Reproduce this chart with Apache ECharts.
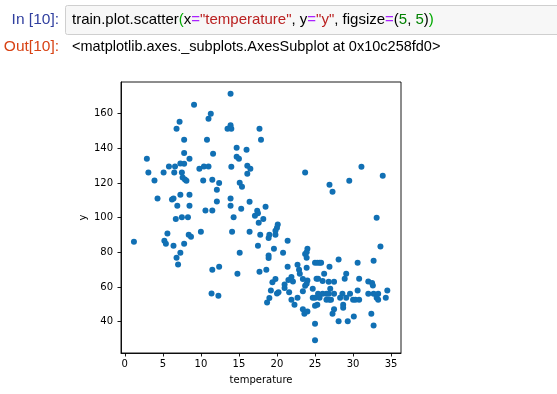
<!DOCTYPE html>
<html>
<head>
<meta charset="utf-8">
<script src="https://cdn.jsdelivr.net/npm/echarts@6/dist/echarts.min.js"></script>
<style>
html,body{margin:0;padding:0;background:#fff;}
#chart{width:557px;height:394px;}
</style>
</head>
<body>
<div id="chart"></div>
<script>
// ---- data ----
const temperature = [
  9.1,11.3,11.0,7.2,6.8,7.8,10.8,7.8,11.6,2.9,8.5,7.3,7.8,5.8,6.6,10.4,11.0,9.8,3.1,5.1,
  6.5,7.5,7.6,7.9,8.1,3.9,10.3,11.5,12.4,12.1,4.3,6.2,6.4,7.3,8.5,12.1,6.9,8.5,10.6,11.5,
  6.7,7.5,8.3,1.2,5.6,8.4,8.7,10.0,5.2,5.4,6.4,7.8,7.3,6.8,7.0,11.5,12.4,11.4,12.3,13.9,
  13.5,13.9,14.0,17.7,17.9,14.7,16.0,14.7,15.0,14.0,16.1,16.5,16.1,23.7,15.1,15.4,13.9,13.9,16.4,15.3,
  17.4,17.5,17.1,18.5,14.3,18.2,17.6,20.1,20.0,19.8,19.8,19.0,18.9,17.8,16.4,14.1,21.4,17.5,19.6,20.8,
  15.1,18.9,18.9,24.0,23.7,23.9,21.4,22.7,22.9,23.0,23.9,14.8,17.7,18.6,21.9,21.5,22.1,23.4,24.0,19.4,
  19.8,21.0,21.0,21.6,23.7,23.4,19.2,20.0,20.2,19.0,18.7,21.9,22.7,22.3,23.4,23.6,24.0,31.1,26.9,27.3,
  29.5,33.9,33.1,33.6,23.9,25.0,25.3,25.6,25.8,26.9,28.1,30.6,32.7,26.2,29.1,28.9,30.8,32.0,32.5,32.6,
  25.2,25.4,26.0,26.8,27.5,23.9,24.7,25.4,26.0,26.5,26.8,27.0,27.5,28.6,29.6,30.6,32.0,32.7,33.3,34.5,
  34.3,24.7,25.0,25.6,26.5,26.9,27.1,28.3,29.1,30.0,30.3,30.8,33.1,33.3,28.7,28.7,27.5,27.3,25.0,25.3,
  28.1,29.3,30.1,32.4,32.7,25.0,25.0
];
const yValues = [
  165.2,160,157.1,155.4,151.3,145,145,137.3,136.9,134,134,131.3,131.1,129.6,129.6,129.6,129.6,128.3,126.1,126.1,
  126.1,126,123.2,122.1,121.3,121.5,121.5,121.9,120,116.1,111.1,110.5,111.1,113.2,113.2,109.4,106.9,106.9,104.2,104.2,
  99.2,100.2,100.2,86.1,90.8,90.2,89,91.9,86.7,85,83.8,85,79.8,76.9,73,70,71.7,56.3,55,171.5,
  151.3,153.3,151.3,151.3,145,140.4,139.2,135.2,134,129.4,130,128.3,125.4,126,120.2,117.9,111,106.9,109.2,105.2,
  104,102.6,101.1,106.3,100.2,99.2,97.1,96,94.2,92.5,90.2,90.2,88.2,90.2,91.9,91.9,86.7,83.8,82.1,79.8,
  79.8,78.1,76.7,82.1,79,76.9,71.7,72.9,70,67.7,71.1,67.7,68.8,70,65.7,64,63.2,64.6,63.8,62.8,
  64.6,61.5,59.4,56.9,60.7,57.6,57.9,56.3,57,53.6,51.1,52.7,53.8,49.8,47.1,44.6,45.9,129.4,119,115,
  121.3,124.2,100,83.4,80,74,74,74,74,71.7,75.8,74,75.2,67.7,67.7,64.8,64.8,63.1,62.3,60.8,
  64.7,64.7,63.4,63,63,61.9,59,56.1,56.1,56.1,56.1,59,56.1,56.1,56.1,57.9,56.1,56.1,56.1,57.9,
  53.8,53.8,53.8,53.8,52.7,52.7,52.7,53.8,53.8,52.7,52.7,52.7,53.8,52.7,49.8,48,47.1,44.6,49.2,49.8,
  40.2,40.2,42.9,44.6,37.7,38.8,29.2
];
const xTicks = [0, 5, 10, 15, 20, 25, 30, 35];
const yTicks = [40, 60, 80, 100, 120, 140, 160];
const xLabel = 'temperature';
const yLabel = 'y';
const inPrompt = 'In [10]:';
const outPrompt = 'Out[10]:';
const outText = '<matplotlib.axes._subplots.AxesSubplot at 0x10c258fd0>';
// code cell tokens: [text, style]
const codeTokens = [
  ['train.plot.scatter', 'k'], ['(', 'mb'], ['x', 'k'], ['=', 'op'], ['"temperature"', 's'],
  [', y', 'k'], ['=', 'op'], ['"y"', 's'], [', figsize', 'k'], ['=', 'op'],
  ['(', 'k'], ['5', 'n'], [', ', 'k'], ['5', 'n'], [')', 'k'], [')', 'mb']
];

const points = temperature.map((t, i) => [t, yValues[i]]);

const chart = echarts.init(document.getElementById('chart'), null, {renderer: 'canvas'});
const uiFont = '"Liberation Sans", Arial, Helvetica, sans-serif';
const plotFont = '"DejaVu Sans", sans-serif';

const codeRich = {
  k: {fill: '#000000', fontSize: 15, fontFamily: uiFont},
  mb: {fill: '#00aa00', fontSize: 15, fontFamily: uiFont},
  op: {fill: '#aa22ff', fontSize: 15, fontFamily: uiFont},
  s: {fill: '#ba2121', fontSize: 15, fontFamily: uiFont},
  n: {fill: '#008000', fontSize: 15, fontFamily: uiFont}
};
const codeText = codeTokens.map(([txt, st]) => '{' + st + '|' + txt.replace(/\|/g, '') + '}').join('');

chart.setOption({
  animation: false,
  backgroundColor: '#ffffff',
  grid: {
    left: 121, top: 82, width: 280, height: 271,
    show: true, borderColor: '#000000', borderWidth: 0.9, backgroundColor: 'transparent'
  },
  xAxis: {
    type: 'value', min: -0.5, max: 36.3,
    name: xLabel, nameLocation: 'middle', nameGap: 22, nameMoveOverlap: false,
    nameTextStyle: {fontFamily: plotFont, fontSize: 10, color: '#000'},
    axisLine: {show: true, onZero: false, lineStyle: {color: '#000', width: 0.9}},
    axisTick: {show: true, inside: false, length: 3.5, customValues: xTicks, lineStyle: {color: '#000', width: 0.9}},
    axisLabel: {customValues: xTicks, margin: 6, fontFamily: plotFont, fontSize: 10, color: '#000'},
    splitLine: {show: false}
  },
  yAxis: {
    type: 'value', min: 21.9, max: 178.3,
    name: yLabel, nameLocation: 'middle', nameGap: 33, nameRotate: 90, nameMoveOverlap: false,
    nameTextStyle: {fontFamily: plotFont, fontSize: 10, color: '#000'},
    axisLine: {show: true, onZero: false, lineStyle: {color: '#000', width: 0.9}},
    axisTick: {show: true, inside: false, length: 3.5, customValues: yTicks, lineStyle: {color: '#000', width: 0.9}},
    axisLabel: {customValues: yTicks, margin: 8, fontFamily: plotFont, fontSize: 10, color: '#000'},
    splitLine: {show: false}
  },
  series: [{
    type: 'scatter',
    data: points,
    symbol: 'circle',
    symbolSize: 6,
    itemStyle: {color: '#1170b4', opacity: 1},
    emphasis: {disabled: true}
  }],
  graphic: [
    {type: 'rect', shape: {x: 65.5, y: 5.5, width: 520, height: 29, r: 2},
     style: {fill: '#f7f7f7', stroke: '#cfcfcf', lineWidth: 1}},
    {type: 'text', x: 59, y: 20,
     style: {text: inPrompt, fill: '#303F9F', font: '15.5px ' + uiFont, align: 'right', verticalAlign: 'middle'}},
    {type: 'text', x: 72, y: 20,
     style: {text: codeText, rich: codeRich, verticalAlign: 'middle', align: 'left'}},
    {type: 'text', x: 59, y: 47,
     style: {text: outPrompt, fill: '#D84315', font: '15.5px ' + uiFont, align: 'right', verticalAlign: 'middle'}},
    {type: 'text', x: 72, y: 47,
     style: {text: outText, fill: '#000000', font: '14.5px ' + uiFont, align: 'left', verticalAlign: 'middle'}}
  ]
});
</script>
</body>
</html>
